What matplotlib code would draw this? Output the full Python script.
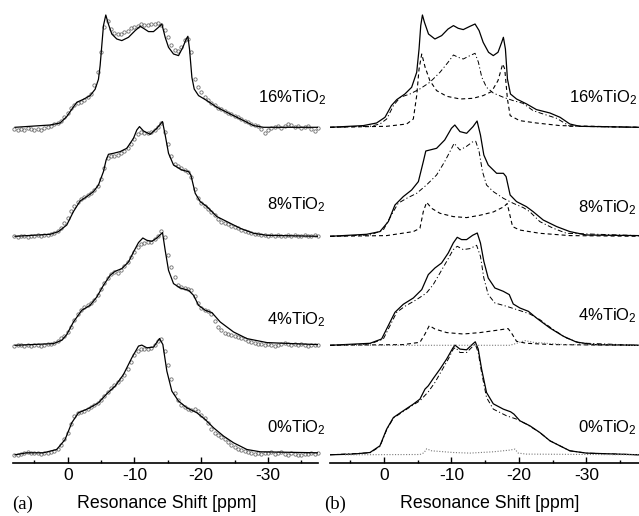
import numpy as np
import matplotlib.pyplot as plt

plt.rcParams['font.family'] = ['Liberation Sans', 'DejaVu Sans']

# sample names, top to bottom
samples = ['16%', '8%', '4%', '0%']

# ---- panel (a): measured points on a 0.5 ppm grid (8 ... -37.5 ppm)
grid_ppm = np.arange(8.0, -38.0, -0.5)
circ16 = [-2, -3, -2, -3, -1, -2, -3, -2, -3, -1, 0,
          1, 3, 4, 6, 10, 14, 19, 22, 24, 25,
          27, 30, 33, 42, 55, 75, 100, 106, 98, 94,
          93, 93, 95, 96, 99, 100, 101, 103, 102, 102,
          103, 103, 104, 102, 97, 90, 82, 77, 76, 80,
          87, 88, 75, 48, 40, 35, 30, 27, 24, 22,
          19, 18, 16, 14, 13, 11, 10, 8, 6, 5,
          3, 2, 1, -2, -6, -3, -1, 0, 1, -1,
          1, 3, 2, 0, 1, -1, 0, 1, -2, -4,
          -1]
circ8 = [0, -1, 0, 0, -1, 0, 0, 1, 0, 1, 1,
         2, 3, 5, 8, 13, 18, 25, 30, 34, 37,
         39, 41, 43, 46, 50, 57, 68, 78, 80, 80,
         81, 83, 85, 88, 92, 97, 102, 104, 103, 103,
         104, 106, 109, 113, 104, 92, 80, 72, 70, 68,
         66, 64, 59, 47, 38, 33, 30, 27, 24, 21,
         17, 14, 13, 12, 10, 9, 8, 6, 5, 4,
         3, 2, 2, 1, 1, 0, 1, 0, 1, 0,
         0, 1, 0, 1, 0, 0, 1, 0, 0, 1,
         0]
circ4 = [-1, 0, 0, -1, 0, -1, 0, 0, -1, 0, 1,
         1, 2, 4, 7, 9, 13, 18, 25, 31, 35,
         38, 40, 42, 45, 50, 56, 62, 67, 71, 73,
         72, 75, 79, 83, 88, 93, 98, 101, 102, 103,
         103, 106, 109, 114, 108, 90, 78, 68, 60, 58,
         57, 56, 55, 49, 42, 37, 35, 34, 31, 24,
         18, 15, 12, 11, 10, 9, 8, 7, 6, 4,
         3, 2, 1, 1, 0, 1, 0, -1, 0, 1,
         2, 1, 0, 1, 0, 1, 0, -1, 0, 0,
         0]
circ0 = [0, 0, 1, 2, 3, 2, 2, 2, 1, 2, 2,
         3, 4, 6, 10, 16, 22, 31, 39, 42, 43,
         44, 46, 48, 50, 52, 55, 59, 63, 67, 70,
         73, 76, 80, 86, 93, 100, 104, 106, 106, 106,
         107, 110, 114, 116, 104, 90, 76, 62, 55, 50,
         48, 46, 45, 46, 44, 40, 37, 32, 26, 22,
         20, 18, 16, 13, 10, 8, 6, 5, 4, 3,
         2, 1, 2, 1, 2, 2, 3, 1, 2, 3,
         1, 0, 2, 1, 0, 0, 1, 1, 2, 1,
         2]

# ---- panel (a): fitted lines, (ppm, intensity)
fit16 = [(7.9, 0), (2.65, 2.3), (1.15, 4.3), (0.15, 10.7), (-0.6, 18), (-1.35, 25),
         (-2.35, 28), (-3.35, 31.7), (-4.1, 38), (-4.6, 48), (-4.85, 61.7), (-5.1, 81.7),
         (-5.35, 101.7), (-5.7, 112.3), (-6.1, 103), (-6.6, 93.3), (-7.35, 88.3), (-8.1, 86.7),
         (-9.1, 90), (-10.1, 96.7), (-10.85, 101), (-11.35, 99), (-12.1, 95.7), (-12.85, 95.7),
         (-13.6, 100), (-14.1, 103.3), (-14.6, 90), (-15.1, 80), (-15.85, 73.3), (-16.6, 71.7),
         (-17.25, 80), (-17.75, 88.3), (-18, 91), (-18.25, 78), (-18.6, 50), (-18.95, 38.3),
         (-19.6, 31.7), (-20.85, 26.7), (-22.35, 20), (-24.35, 13.3), (-26.35, 6.7),
         (-27.85, 1.7), (-29.35, 0), (-37.5, 0)]
fit8 = [(7.9, 0), (2.65, 2), (1.4, 4.7), (0.15, 11.3), (-0.85, 24.7), (-1.85, 35.3),
        (-2.85, 39.7), (-3.85, 44.7), (-4.6, 51.3), (-5.35, 64.7), (-5.75, 76.3), (-6.1, 82),
        (-6.85, 83), (-7.85, 84.7), (-8.85, 88), (-9.85, 98), (-10.35, 106.3), (-10.75, 109.7),
        (-11.35, 105.3), (-12.35, 102), (-13.35, 108), (-14.2, 114.7), (-14.6, 101.3),
        (-15.1, 83), (-15.85, 71.3), (-17.1, 66.3), (-18.1, 64.7), (-18.45, 61.3), (-19.1, 43),
        (-19.85, 34.7), (-20.85, 29.7), (-22.35, 19.7), (-23.85, 14.7), (-25.85, 8),
        (-27.85, 3), (-29.85, 1), (-37.5, 0)]
fit4 = [(7.9, 0), (2.15, 1.7), (0.9, 5), (0.15, 10.7), (-0.85, 23.3), (-2.1, 35),
        (-3.35, 40), (-4.35, 48.3), (-5.35, 60), (-6.35, 70), (-7.1, 74), (-8.1, 76.7),
        (-9.1, 83.3), (-9.85, 93.3), (-10.6, 102.7), (-11.25, 107.3), (-11.85, 105),
        (-12.6, 104), (-13.35, 107.3), (-14.2, 112.7), (-14.6, 95), (-15.1, 75), (-15.85, 61.7),
        (-16.85, 57.3), (-18.1, 55), (-18.85, 50), (-19.6, 40), (-20.6, 35), (-21.6, 32.7),
        (-22.85, 23.3), (-24.85, 13.3), (-26.85, 6.7), (-29.85, 2.7), (-37.5, 0.7)]
fit0 = [(7.9, 0), (6.15, 2), (3.65, 2), (1.65, 5.3), (0.4, 15.3), (-0.6, 32), (-1.6, 42),
        (-3.1, 46.3), (-4.6, 52), (-5.85, 61), (-7.1, 68.7), (-8.35, 80.3), (-9.6, 97),
        (-10.6, 108.7), (-11.1, 109.7), (-11.85, 107), (-12.85, 107.7), (-13.75, 116.3),
        (-14.25, 110.3), (-14.85, 83.7), (-15.6, 63.7), (-16.6, 53.7), (-17.85, 47),
        (-19.35, 42), (-20.6, 35.3), (-21.85, 27), (-23.35, 18.7), (-24.85, 12),
        (-26.85, 5.3), (-28.85, 3), (-37.5, 2)]

# ---- panel (b): total fit (solid), broad site (dash-dot), horned site (dashed), minor (dotted)
tot16 = [(8, 0), (3.06, 1.7), (1.1, 4.3), (-0.15, 10), (-1.1, 21.7), (-1.9, 27.7), (-3.1, 33.3),
         (-4.1, 40), (-4.85, 55), (-5.2, 78.3), (-5.45, 101.7), (-5.7, 112.3), (-6, 105),
         (-6.6, 93.3), (-7.55, 88.3), (-8.55, 91.7), (-9.5, 98.3), (-10.3, 101.7), (-11, 99),
         (-11.75, 97.7), (-12.75, 101), (-13.5, 103.3), (-14.1, 96.7), (-14.7, 85), (-15.5, 75),
         (-16.2, 71.7), (-16.9, 75), (-17.45, 85), (-17.7, 90), (-18, 78.3), (-18.3, 48.3),
         (-18.75, 33.3), (-19.65, 28.3), (-21.15, 23.3), (-22.6, 17.7), (-24.6, 14.3),
         (-26.1, 10), (-27.55, 3.3), (-29, 1), (-37.8, 0)]
dd16 = [(8, 0), (2.07, 1), (0.6, 3.3), (-0.4, 8.3), (-1.4, 21.7), (-2.4, 30), (-3.85, 33.3),
        (-5.3, 38.3), (-6.8, 45), (-8.3, 55), (-9.5, 65), (-10.3, 72.3), (-11, 70),
        (-11.75, 68.3), (-12.75, 71.7), (-13.5, 74), (-14, 65), (-14.5, 50), (-15.2, 40),
        (-16.2, 34.3), (-17.7, 30), (-19.15, 26.7), (-20.6, 24), (-22.1, 16.7), (-23.6, 13.3),
        (-25.6, 9), (-27.55, 1), (-37.8, 0)]
da16 = [(8, 0), (-0.4, 1), (-3.36, 3.3), (-4.35, 8.3), (-4.85, 31.7), (-5.2, 58.3),
        (-5.6, 73.3), (-6.1, 60), (-6.8, 46.7), (-7.8, 36.7), (-9.3, 31), (-11.3, 28.3),
        (-13.2, 29), (-14.7, 31.7), (-15.95, 35.7), (-16.9, 46.7), (-17.6, 63.3), (-17.9, 58.3),
        (-18.3, 28.3), (-18.7, 11.7), (-20.1, 6.7), (-22.6, 4.3), (-26.1, 1.7), (-37.8, 0)]
tot8 = [(8, 0), (2.57, 2), (0.6, 4.7), (-0.64, 14.7), (-1.63, 31.3), (-2.86, 39.7), (-4.1, 46.3),
        (-5.1, 54.7), (-5.83, 74.7), (-6.2, 85.3), (-6.8, 86.3), (-7.8, 88), (-9, 96.3),
        (-10, 108), (-10.5, 111.3), (-11.26, 104.7), (-12.25, 103), (-13.2, 109.7),
        (-13.8, 115.3), (-14.3, 101.3), (-14.8, 81.3), (-15.45, 71.3), (-16.7, 63), (-17.7, 63),
        (-18.1, 59.7), (-18.7, 41.3), (-19.65, 34.7), (-21.1, 29.7), (-22.1, 24.7),
        (-23.6, 16.3), (-25.6, 9.7), (-27.55, 4.7), (-30, 1.3), (-37.8, 0.7)]
dd8 = [(8, 0), (2.07, 1.3), (0.1, 6.3), (-1.1, 21.3), (-2.1, 33), (-3.36, 38), (-4.85, 43),
       (-6.3, 51.3), (-7.8, 61.3), (-9, 74.7), (-9.8, 85), (-10.4, 93), (-11.26, 86.3),
       (-12.25, 90), (-13.1, 94.3), (-13.6, 95), (-14.1, 84.7), (-14.6, 64.7), (-15.2, 51.3),
       (-16.2, 44.7), (-17.7, 38), (-19.16, 33), (-20.64, 28.7), (-21.6, 24.7), (-23.1, 14.7),
       (-25.1, 8), (-27.06, 3), (-37.8, 0.7)]
da8 = [(8, 0), (-0.4, 0.7), (-4.35, 4.7), (-5.33, 8), (-5.83, 24.7), (-6.32, 34), (-7.06, 28),
       (-8.3, 23), (-10.27, 19.7), (-12.25, 18.7), (-14.2, 21), (-16.2, 24.3), (-17.7, 29.3),
       (-18.27, 32.7), (-18.67, 21), (-19.06, 9.7), (-20.1, 6.3), (-23.1, 3), (-27.55, 0.7),
       (-37.8, 0)]
tot4 = [(8, 0), (2.07, 2), (0.35, 6.3), (-0.64, 19.7), (-1.63, 33), (-2.86, 41), (-4.35, 47.3),
        (-5.6, 55.7), (-6.57, 70.7), (-7.55, 77.3), (-8.54, 82.3), (-9.53, 92.3),
        (-10.27, 102.3), (-10.86, 108), (-11.5, 105.7), (-12.25, 105.7), (-13.14, 110),
        (-13.83, 112.3), (-14.3, 102.3), (-14.8, 84), (-15.45, 67.3), (-16.44, 57.3),
        (-17.68, 54), (-18.57, 50.7), (-19.16, 41.3), (-20.15, 37.3), (-21.4, 34),
        (-22.6, 27.3), (-24.6, 17.3), (-26.6, 9), (-28.5, 3.3), (-31, 0.7), (-37.8, 0)]
dd4 = [(8, 0), (2.07, 1.3), (0.1, 6.3), (-0.9, 19.7), (-1.88, 33), (-3.1, 39), (-4.84, 45.7),
       (-6.3, 52.3), (-7.3, 60.7), (-8.3, 72.3), (-9.3, 84), (-10.27, 95.7), (-10.86, 99),
       (-11.75, 95.7), (-12.74, 96.7), (-13.73, 100), (-14.3, 89), (-14.8, 67.3),
       (-15.45, 50.7), (-16.44, 42.3), (-18.17, 39), (-20.15, 34.7), (-21.63, 31.3),
       (-23.1, 25.7), (-25.1, 15.7), (-27.06, 7.3), (-29, 2.3), (-37.8, 0)]
da4 = [(8, 0), (-2.86, 0.7), (-5.33, 3), (-6.08, 11.3), (-6.72, 19.7), (-7.55, 16.3),
       (-9.3, 12.7), (-11.75, 11.3), (-14.2, 12.7), (-16.7, 15), (-18.4, 16.7), (-18.9, 12.3),
       (-19.65, 4), (-21.1, 2), (-25.1, 0.7), (-37.8, 0)]
dot4 = [(5.8, 0), (-18.67, 0), (-19.65, 2), (-20.9, 4.7), (-22.1, 3), (-24.1, 2),
        (-26.6, 0.7), (-37.8, 0)]
tot0 = [(8, 0), (4.54, 0.7), (2.07, 2.3), (0.6, 9), (-0.4, 25.7), (-1.4, 37.3), (-2.86, 44),
        (-4.35, 50.7), (-5.33, 55.7), (-6.08, 65.7), (-6.57, 69), (-7.3, 76.3), (-8.3, 85.7),
        (-9.28, 95.7), (-10.17, 106.3), (-10.52, 109.7), (-11.26, 105.7), (-12.25, 105),
        (-13.14, 110.7), (-13.53, 113), (-13.97, 105.7), (-14.47, 85.7), (-15.2, 62.3),
        (-16.2, 51), (-17.68, 45.7), (-18.77, 43), (-19.26, 40.7), (-20.15, 34), (-21.63, 29),
        (-23.1, 22.3), (-24.6, 14), (-26.07, 9), (-27.55, 4), (-30, 1.7), (-37.8, 0)]
dd0 = [(8, 0), (2.07, 2), (0.6, 8.3), (-0.4, 25), (-1.4, 36.7), (-2.86, 43.3), (-4.35, 50),
       (-5.33, 54), (-6.57, 63), (-7.55, 72.3), (-8.54, 84), (-9.53, 95.7), (-10.27, 105.7),
       (-10.6, 107.3), (-11.26, 102.3), (-12.25, 102.3), (-13.14, 108.3), (-13.53, 110.7),
       (-13.97, 102.3), (-14.47, 82.3), (-15.2, 57.3), (-16.2, 45.7), (-18.17, 39),
       (-19.65, 35.7), (-21.1, 30.7), (-23.1, 22.3), (-24.6, 14), (-26.07, 9), (-27.55, 4),
       (-30, 1.7), (-37.8, 0)]
dot0 = [(5.78, 0), (-5.33, 0.3), (-5.93, 2), (-6.32, 6), (-7.06, 4), (-10.27, 2.3),
        (-12.74, 1.7), (-16.2, 3), (-18.67, 4.7), (-19.4, 5.7), (-19.9, 1.7), (-21.1, 0.7),
        (-37.8, 0)]

# vertical stacking of the spectra
offsets = [336, 227, 118, 8.5]

W, H = 639, 516
fig = plt.figure(figsize=(W / 100, H / 100), dpi=100)
axA = fig.add_axes([13.3 / W, 52.7 / H, 304.7 / W, 463.3 / H])
axB = fig.add_axes([330 / W, 52.7 / H, 309 / W, 463.3 / H])

DASH = (0, (3.6, 2.7))
DASHDOT = (0, (5, 2.5, 1.2, 2.5))
DOT = (0, (1, 1.5))


def curve(ax, pts, off, **kw):
    p = np.array(pts, dtype=float)
    ax.plot(p[:, 0], p[:, 1] + off, solid_joinstyle='round', **kw)


# panel (a)
for circ, fit, off in zip([circ16, circ8, circ4, circ0], [fit16, fit8, fit4, fit0], offsets):
    axA.plot(grid_ppm, np.array(circ) + off, 'o', mfc='none', mec='#6e6e6e',
             ms=2.4, mew=0.6, clip_on=False, zorder=2)
    curve(axA, fit, off, color='k', lw=0.9, zorder=3)

# panel (b)
for tot, dd, off in zip([tot16, tot8, tot4, tot0], [dd16, dd8, dd4, dd0], offsets):
    curve(axB, dd, off, color='k', lw=0.7, ls=DASHDOT)
    curve(axB, tot, off, color='k', lw=0.9)
for da, off in zip([da16, da8, da4], offsets[:3]):
    curve(axB, da, off, color='k', lw=0.8, ls=DASH)
for dt, off in zip([dot4, dot0], offsets[2:]):
    curve(axB, dt, off, color='#7a7a7a', lw=0.8, ls=DOT)

for ax, lim in [(axA, (8.16, -37.5)), (axB, (8.0, -37.8))]:
    ax.set_xlim(*lim)
    ax.set_ylim(0, 463.3)
    for s in ['top', 'left', 'right']:
        ax.spines[s].set_visible(False)
    ax.spines['bottom'].set_linewidth(1.2)
    ax.set_yticks([])
    ax.set_xticks([0, -10, -20, -30])
    ax.set_xticks([5, -5, -15, -25, -35], minor=True)
    ax.tick_params(axis='x', which='major', direction='in', length=4.2, width=1,
                   labelsize=12.5, pad=3.5)
    ax.tick_params(axis='x', which='minor', direction='in', length=2.5, width=1)
    ax.set_xticklabels(['0', '-10', '-20', '-30'])
    ax.patch.set_alpha(0)

# sample labels
baseA = [102, 209, 324, 432]
baseB = [102, 212, 320, 432]
for name, ya, yb in zip(samples, baseA, baseB):
    lab = name + 'TiO$\\mathregular{_2}$'
    fig.text(326 / W, 1 - ya / H, lab, ha='right', va='baseline', fontsize=12)
    fig.text(637 / W, 1 - yb / H, lab, ha='right', va='baseline', fontsize=12)

fig.text(167 / W, 1 - 504 / H, 'Resonance Shift [ppm]', ha='center', va='center', fontsize=12.8)
fig.text(490 / W, 1 - 504 / H, 'Resonance Shift [ppm]', ha='center', va='center', fontsize=12.8)
fig.text(12 / W, 1 - 504 / H, '(a)', ha='left', va='center', fontsize=13.5,
         family=['Liberation Serif', 'DejaVu Serif'])
fig.text(324 / W, 1 - 504 / H, '(b)', ha='left', va='center', fontsize=13.5,
         family=['Liberation Serif', 'DejaVu Serif'])

fig.savefig('out.png', dpi=100)
